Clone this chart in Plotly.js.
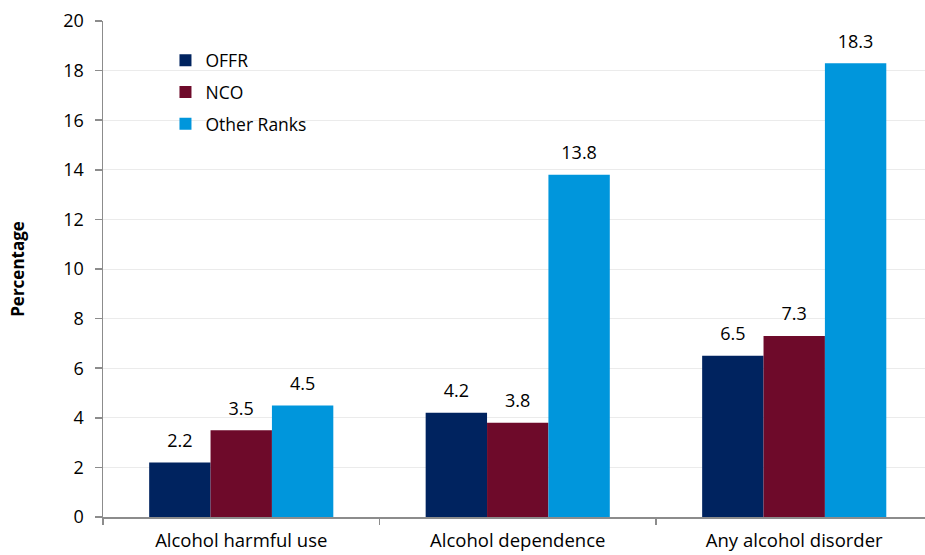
<!DOCTYPE html>
<html>
<head>
<meta charset="utf-8">
<script src="https://cdn.plot.ly/plotly-3.0.1.min.js"></script>
<style>html,body{margin:0;padding:0;background:#fff;overflow:hidden}</style>
</head>
<body>
<div id="chart" style="width:925px;height:555px"></div>
<script>
const categories = ["Alcohol harmful use", "Alcohol dependence", "Any alcohol disorder"];
const seriesNames = ["OFFR", "NCO", "Other Ranks"];
const offr = [2.2, 4.2, 6.5];
const nco = [3.5, 3.8, 7.3];
const otherRanks = [4.5, 13.8, 18.3];
const yTickVals = [0, 2, 4, 6, 8, 10, 12, 14, 16, 18, 20];
const colors = ["#00235F", "#6E0A2A", "#0096DC"];

const FONT = "'Open Sans', 'Liberation Sans', Arial, sans-serif";
const seriesValues = [offr, nco, otherRanks];

const traces = [];
seriesValues.forEach((vals, i) => {
  traces.push({
    type: "bar",
    name: seriesNames[i],
    x: categories,
    y: vals,
    marker: {color: colors[i], line: {width: 0}},
    legendgroup: "g" + i,
    hoverinfo: "skip"
  });
});
seriesValues.forEach((vals, i) => {
  traces.push({
    type: "scatter",
    mode: "markers+text",
    x: categories,
    y: vals,
    text: vals.map(v => v.toFixed(1)),
    textposition: "top center",
    textfont: {family: FONT, size: 18, color: "#000"},
    marker: {size: 16, opacity: 0, color: colors[i]},
    showlegend: false,
    hoverinfo: "skip",
    cliponaxis: false
  });
});

const layout = {
  width: 925,
  height: 555,
  margin: {l: 103, r: 0, t: 21, b: 38, pad: 0},
  paper_bgcolor: "#ffffff",
  plot_bgcolor: "#ffffff",
  font: {family: FONT, size: 18, color: "#000"},
  barmode: "group",
  bargap: 0.334,
  bargroupgap: 0,
  scattermode: "group",
  scattergap: 0.334,
  showlegend: true,
  legend: {
    x: 0.076, y: 0.957, xanchor: "left", yanchor: "top",
    bgcolor: "rgba(0,0,0,0)",
    font: {family: FONT, size: 17.5, color: "#000"},
    traceorder: "grouped",
    tracegroupgap: 6
  },
  xaxis: {
    type: "category",
    range: [-0.5, 2.473],
    showline: true,
    linecolor: "#8c8c8c",
    linewidth: 1.5,
    ticks: "outside",
    tickson: "boundaries",
    ticklen: 6,
    tickcolor: "#8c8c8c",
    tickwidth: 1.5,
    ticklabelstandoff: 6,
    showgrid: false,
    zeroline: false,
    tickfont: {family: FONT, size: 18.5, color: "#000"},
    fixedrange: true
  },
  yaxis: {
    range: [0, 20],
    tickvals: yTickVals,
    ticktext: yTickVals.map(String),
    showline: true,
    linecolor: "#8c8c8c",
    linewidth: 1.5,
    ticks: "outside",
    ticklen: 7,
    tickcolor: "#8c8c8c",
    tickwidth: 1.5,
    ticklabelstandoff: 7,
    showgrid: true,
    gridcolor: "#ebebeb",
    gridwidth: 1,
    zeroline: false,
    tickfont: {family: FONT, size: 18, color: "#000"},
    automargin: true,
    title: {text: "<b>Percentage</b>", font: {family: FONT, size: 17, color: "#000"}, standoff: 34},
    fixedrange: true
  }
};

Plotly.newPlot("chart", traces, layout, {displayModeBar: false, staticPlot: true});
</script>
</body>
</html>
